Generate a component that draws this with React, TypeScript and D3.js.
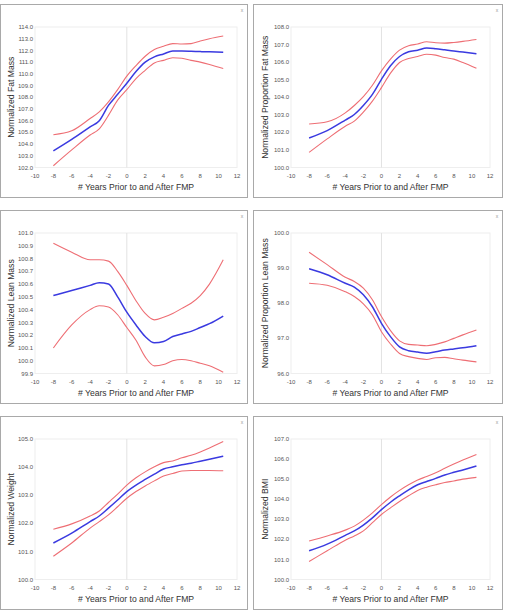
import React from "react";
import * as d3 from "d3";

// shared x positions (years relative to FMP)
const years = [-8, -6, -4, -3, -2, -1, 0, 1, 2, 3, 4, 5, 6, 7, 8, 9, 10.5];
const xTicks = [-10, -8, -6, -4, -2, 0, 2, 4, 6, 8, 10, 12];

const fatMassMean = [103.42, 104.4, 105.47, 106.0, 107.3, 108.25, 109.2, 110.2, 111.0, 111.45, 111.7, 111.95, 111.95, 111.93, 111.9, 111.88, 111.85];
const fatMassUpper = [104.8, 105.13, 106.18, 106.75, 107.6, 108.65, 109.8, 110.7, 111.5, 112.07, 112.35, 112.58, 112.55, 112.58, 112.8, 113.0, 113.23];
const fatMassLower = [102.15, 103.5, 104.77, 105.3, 106.45, 107.75, 108.65, 109.6, 110.3, 110.93, 111.15, 111.38, 111.33, 111.15, 111.0, 110.8, 110.45];

const propFatMean = [101.68, 102.1, 102.7, 103.02, 103.53, 104.16, 105.02, 105.79, 106.32, 106.59, 106.68, 106.8, 106.76, 106.7, 106.64, 106.57, 106.47];
const propFatUpper = [102.48, 102.6, 103.11, 103.53, 104.03, 104.68, 105.5, 106.17, 106.68, 106.93, 107.03, 107.16, 107.1, 107.08, 107.12, 107.18, 107.29];
const propFatLower = [100.86, 101.63, 102.35, 102.64, 103.15, 103.78, 104.55, 105.37, 105.98, 106.21, 106.32, 106.45, 106.4, 106.26, 106.17, 105.98, 105.65];

const leanMean = [100.51, 100.55, 100.59, 100.61, 100.6, 100.5, 100.38, 100.28, 100.19, 100.14, 100.15, 100.19, 100.21, 100.23, 100.26, 100.29, 100.35];
const leanUpper = [100.92, 100.85, 100.79, 100.79, 100.78, 100.7, 100.59, 100.47, 100.37, 100.32, 100.34, 100.37, 100.41, 100.45, 100.51, 100.6, 100.79];
const leanLower = [100.1, 100.28, 100.4, 100.43, 100.42, 100.36, 100.26, 100.16, 100.03, 99.96, 99.97, 100.0, 100.01, 100.0, 99.98, 99.96, 99.91];

const propLeanMean = [98.98, 98.81, 98.57, 98.46, 98.24, 97.9, 97.43, 97.05, 96.76, 96.65, 96.61, 96.58, 96.62, 96.67, 96.7, 96.73, 96.79];
const propLeanUpper = [99.45, 99.1, 98.74, 98.62, 98.43, 98.1, 97.62, 97.22, 96.93, 96.83, 96.81, 96.79, 96.83, 96.9, 97.0, 97.1, 97.24];
const propLeanLower = [98.57, 98.51, 98.33, 98.19, 97.98, 97.67, 97.19, 96.84, 96.57, 96.48, 96.43, 96.4, 96.45, 96.46, 96.42, 96.38, 96.33];

const weightMean = [101.3, 101.65, 102.06, 102.26, 102.54, 102.83, 103.13, 103.36, 103.56, 103.75, 103.93, 104.01, 104.08, 104.14, 104.21, 104.28, 104.39];
const weightUpper = [101.79, 101.98, 102.26, 102.44, 102.74, 103.04, 103.36, 103.62, 103.83, 104.01, 104.16, 104.22, 104.33, 104.42, 104.54, 104.68, 104.91];
const weightLower = [100.83, 101.3, 101.83, 102.06, 102.3, 102.59, 102.89, 103.13, 103.33, 103.51, 103.68, 103.77, 103.86, 103.88, 103.88, 103.88, 103.87];

const bmiMean = [101.43, 101.76, 102.2, 102.42, 102.71, 103.07, 103.48, 103.85, 104.17, 104.47, 104.72, 104.88, 105.04, 105.21, 105.34, 105.46, 105.65];
const bmiUpper = [101.92, 102.17, 102.46, 102.66, 102.96, 103.32, 103.73, 104.11, 104.44, 104.72, 104.96, 105.13, 105.32, 105.54, 105.75, 105.95, 106.23];
const bmiLower = [100.9, 101.43, 101.96, 102.17, 102.42, 102.83, 103.24, 103.57, 103.89, 104.17, 104.44, 104.6, 104.72, 104.83, 104.91, 105.0, 105.09];

const panels = [
  { title: "Normalized Fat Mass", y: [102, 114], step: 1, mean: fatMassMean, upper: fatMassUpper, lower: fatMassLower },
  { title: "Normalized Proportion Fat Mass", y: [100, 108], step: 1, mean: propFatMean, upper: propFatUpper, lower: propFatLower },
  { title: "Normalized Lean Mass", y: [99.9, 101.0], step: 0.1, mean: leanMean, upper: leanUpper, lower: leanLower },
  { title: "Normalized Proportion Lean Mass", y: [96, 100], step: 1, mean: propLeanMean, upper: propLeanUpper, lower: propLeanLower },
  { title: "Normalized Weight", y: [100, 105], step: 1, mean: weightMean, upper: weightUpper, lower: weightLower },
  { title: "Normalized BMI", y: [100, 107], step: 1, mean: bmiMean, upper: bmiUpper, lower: bmiLower },
];

const colX = [0, 253];
const rowY = [4, 210, 416];
const panelW = [248, 250];
const panelH = 193;

const Panel = ({ p, col, row }) => {
  const left = col === 0 ? 35 : 38;
  const right = 237;
  const top = 23;
  const bottom = 163.5;

  const x = d3.scaleLinear().domain([-10, 12]).range([left, right]);
  const y = d3.scaleLinear().domain(p.y).range([bottom, top]);

  const n = Math.round((p.y[1] - p.y[0]) / p.step);
  const yTicks = d3.range(n + 1).map((i) => p.y[0] + i * p.step);

  const line = d3
    .line<number>()
    .x((_, i) => x(years[i]))
    .y((d) => y(d))
    .curve(d3.curveMonotoneX);

  return (
    <g transform={`translate(${colX[col]},${rowY[row]})`}>
      <rect x={0.5} y={0.5} width={panelW[col] - 1} height={panelH} fill="#fff" stroke="#a9a9a9" />
      <text x={panelW[col] - 6} y={8} fontSize={5} fill="#999" textAnchor="middle">x</text>
      <rect x={left} y={top} width={right - left} height={bottom - top} fill="none" stroke="#eeeeee" />
      <line x1={x(0)} x2={x(0)} y1={top} y2={bottom} stroke="#e2e2e2" />
      {yTicks.map((t) => (
        <text key={t} x={left - 2} y={y(t)} dy="0.35em" fontSize={6} fill="#555" textAnchor="end">
          {d3.format(".1f")(t)}
        </text>
      ))}
      {xTicks.map((t) => (
        <text key={t} x={x(t)} y={bottom + 10} fontSize={6} fill="#555" textAnchor="middle">
          {t}
        </text>
      ))}
      <text
        transform={`translate(${col === 0 ? 11 : 12},${(top + bottom) / 2}) rotate(-90)`}
        dy="0.35em"
        fontSize={8.6}
        fill="#333"
        textAnchor="middle"
      >
        {p.title}
      </text>
      <text x={(left + right) / 2} y={186} fontSize={8.6} fill="#333" textAnchor="middle">
        # Years Prior to and After FMP
      </text>
      <path d={line(p.upper)} fill="none" stroke="#ee6e74" strokeWidth={1.1} />
      <path d={line(p.lower)} fill="none" stroke="#ee6e74" strokeWidth={1.1} />
      <path d={line(p.mean)} fill="none" stroke="#3a3ae0" strokeWidth={1.5} />
    </g>
  );
};

export default function App() {
  return (
    <svg
      width={505}
      height={610}
      style={{ position: "absolute", left: 0, top: 0, fontFamily: "Arial, 'Liberation Sans', sans-serif" }}
    >
      <rect width={505} height={610} fill="#fff" />
      {panels.map((p, i) => (
        <Panel key={p.title} p={p} col={i % 2} row={Math.floor(i / 2)} />
      ))}
    </svg>
  );
}
